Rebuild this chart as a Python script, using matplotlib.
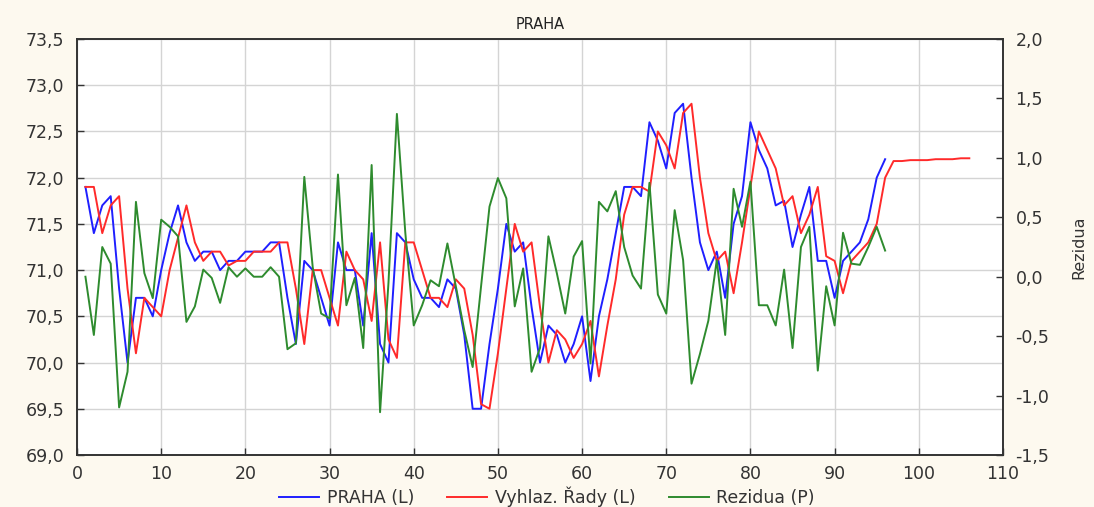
import numpy as np
import matplotlib
matplotlib.use("Agg")
from matplotlib import pyplot as plt
from matplotlib.ticker import FuncFormatter

plt.rcParams['font.family'] = ['DejaVu Sans']

# PRAHA, t = 1..96
praha = [71.9, 71.4, 71.7, 71.8, 70.8, 70.0, 70.7, 70.7, 70.5, 71.0,
         71.4, 71.7, 71.3, 71.1, 71.2, 71.2, 71.0, 71.1, 71.1, 71.2,
         71.2, 71.2, 71.3, 71.3, 70.7, 70.2, 71.1, 71.0, 70.7, 70.4,
         71.3, 71.0, 71.0, 70.4, 71.4, 70.2, 70.0, 71.4, 71.3, 70.9,
         70.7, 70.7, 70.6, 70.9, 70.8, 70.3, 69.5, 69.5, 70.2, 70.8,
         71.5, 71.2, 71.3, 70.6, 70.0, 70.4, 70.3, 70.0, 70.2, 70.5,
         69.8, 70.5, 70.9, 71.4, 71.9, 71.9, 71.8, 72.6, 72.4, 72.1,
         72.7, 72.8, 72.0, 71.3, 71.0, 71.2, 70.7, 71.5, 71.8, 72.6,
         72.3, 72.1, 71.7, 71.75, 71.25, 71.6, 71.9, 71.1, 71.1, 70.7,
         71.1, 71.2, 71.3, 71.55, 72.0, 72.2]

# Vyhlazene rady, t = 1..106 (forecast beyond 96)
vyhlaz = [71.9, 71.9, 71.4, 71.7, 71.8, 70.8, 70.1, 70.7, 70.6, 70.5,
          71.0, 71.35, 71.7, 71.3, 71.1, 71.2, 71.2, 71.05, 71.1, 71.1,
          71.2, 71.2, 71.2, 71.3, 71.3, 70.8, 70.2, 71.0, 71.0, 70.7,
          70.4, 71.2, 71.0, 70.9, 70.45, 71.3, 70.25, 70.05, 71.3, 71.3,
          71.0, 70.7, 70.7, 70.6, 70.9, 70.8, 70.3, 69.55, 69.5, 70.1,
          70.8, 71.5, 71.2, 71.3, 70.6, 70.0, 70.35, 70.25, 70.05, 70.2,
          70.45, 69.85, 70.4, 70.9, 71.6, 71.9, 71.9, 71.85, 72.5, 72.35,
          72.1, 72.7, 72.8, 72.0, 71.4, 71.1, 71.2, 70.75, 71.3, 71.9,
          72.5, 72.3, 72.1, 71.7, 71.8, 71.4, 71.6, 71.9, 71.15, 71.1,
          70.75, 71.1, 71.2, 71.3, 71.5, 72.0, 72.18, 72.18, 72.19, 72.19,
          72.19, 72.2, 72.2, 72.2, 72.21, 72.21]

# Rezidua, t = 1..96
rezidua = [0.0, -0.49, 0.25, 0.11, -1.1, -0.8, 0.63, 0.03, -0.18, 0.48,
           0.42, 0.34, -0.38, -0.25, 0.06, -0.01, -0.22, 0.08, 0.0, 0.07,
           0.0, 0.0, 0.08, 0.0, -0.61, -0.56, 0.84, 0.08, -0.31, -0.35,
           0.86, -0.24, -0.01, -0.6, 0.94, -1.14, -0.05, 1.37, 0.37, -0.41,
           -0.24, -0.03, -0.08, 0.28, -0.08, -0.45, -0.76, -0.08, 0.59, 0.83,
           0.66, -0.25, 0.07, -0.8, -0.6, 0.34, 0.03, -0.31, 0.17, 0.3,
           -0.73, 0.63, 0.55, 0.72, 0.25, 0.01, -0.1, 0.79, -0.15, -0.31,
           0.56, 0.14, -0.9, -0.65, -0.37, 0.14, -0.49, 0.74, 0.42, 0.8,
           -0.24, -0.24, -0.41, 0.06, -0.6, 0.25, 0.42, -0.79, -0.08, -0.41,
           0.37, 0.11, 0.1, 0.25, 0.42, 0.22]

t_data = np.arange(1, len(praha) + 1)
t_vyhl = np.arange(1, len(vyhlaz) + 1)

comma = FuncFormatter(lambda v, p: "{:.1f}".format(v).replace(".", ","))

fig = plt.figure(figsize=(10.94, 5.07), dpi=100, facecolor="#fdf9ef")
ax = fig.add_axes([0.0704, 0.1026, 0.8464, 0.8204])
ax.set_facecolor("white")
ax2 = ax.twinx()

l1, = ax.plot(t_data, praha, color="#1f1fff", lw=1.4, label="PRAHA (L)")
l2, = ax.plot(t_vyhl, vyhlaz, color="#ff2a2a", lw=1.4, label="Vyhlaz. Řady (L)")
l3, = ax2.plot(t_data, rezidua, color="#2e8b2e", lw=1.4, label="Rezidua (P)")

ax.set_xlim(0, 110)
ax.set_ylim(69.0, 73.5)
ax2.set_ylim(-1.5, 2.0)
ax.set_xticks(np.arange(0, 111, 10))
ax.set_yticks(np.arange(69.0, 73.51, 0.5))
ax2.set_yticks(np.arange(-1.5, 2.01, 0.5))
ax.yaxis.set_major_formatter(comma)
ax2.yaxis.set_major_formatter(comma)

ax.grid(True, color="#d4d4d4", lw=1.0)
ax.set_axisbelow(True)
for a in (ax, ax2):
    a.tick_params(direction="in", length=5, width=1, labelsize=12.5,
                  colors="#333333", pad=9)
    for s in a.spines.values():
        s.set_color("#333333")
        s.set_linewidth(1.2)
ax.tick_params(axis="x", pad=7)

ax2.set_ylabel("Rezidua", fontsize=11.5, labelpad=16, color="#333333")
ax.set_title("PRAHA", fontsize=10.5, pad=7, color="#222222")

fig.legend(handles=[l1, l2, l3], loc="lower center", ncol=3, frameon=False,
           fontsize=12.5, bbox_to_anchor=(0.5, -0.03), handlelength=2.3,
           columnspacing=1.9, handletextpad=0.45, labelcolor="#333333")

fig.savefig("out.png", dpi=100, facecolor=fig.get_facecolor())
